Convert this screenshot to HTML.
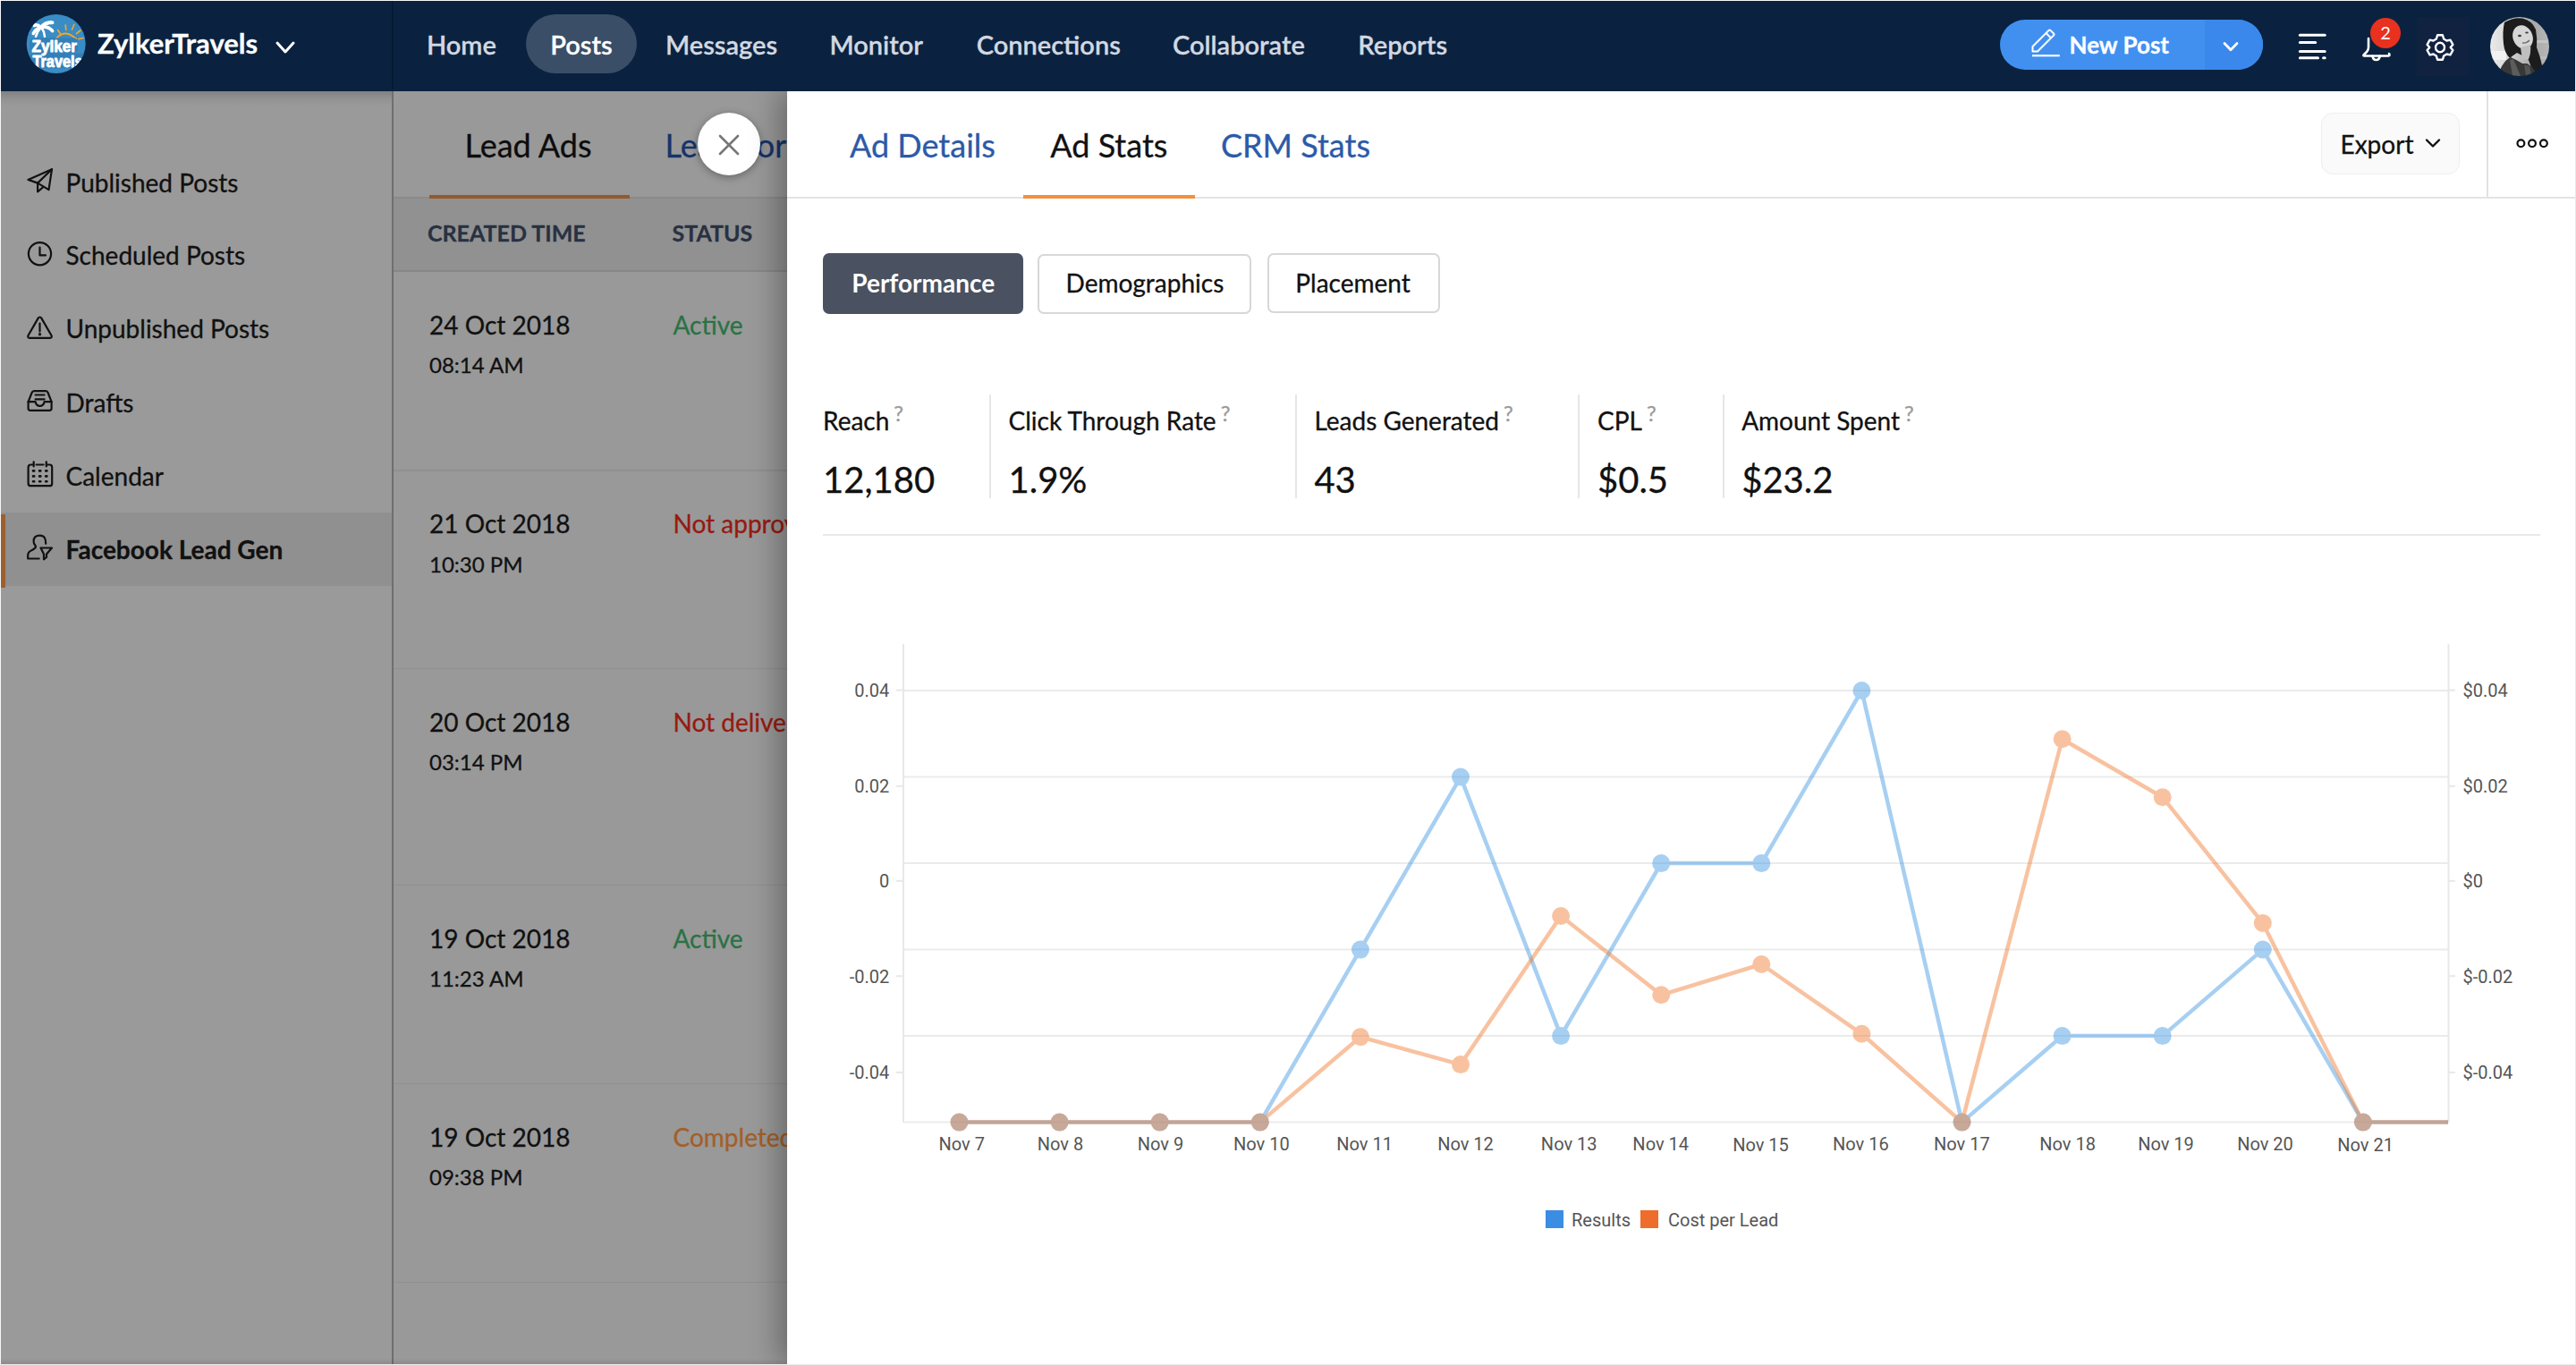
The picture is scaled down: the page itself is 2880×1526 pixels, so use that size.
<!DOCTYPE html>
<html><head><meta charset="utf-8"><title>Zylker Travels - Ad Stats</title>
<style>
*{margin:0;padding:0;box-sizing:border-box}
html,body{width:2880px;height:1526px;overflow:hidden;background:#ededed}
body{position:relative;font-family:"Lato", "Liberation Sans", sans-serif;-webkit-font-smoothing:antialiased}
.t{position:absolute;line-height:1;white-space:nowrap;-webkit-text-stroke:0.3px currentColor}
svg{position:absolute;overflow:visible}
</style></head>
<body>
<div style="position:absolute;left:0px;top:0px;width:2880px;height:1px;background:#f6f6f6"></div>
<div style="position:absolute;left:0px;top:0px;width:1px;height:1526px;background:#f6f6f6"></div>
<div style="position:absolute;left:0;top:0;width:2880px;height:102px;z-index:5">
<div style="position:absolute;left:1px;top:1px;width:2878px;height:101px;background:#0a223f"></div>
<div style="position:absolute;left:438px;top:1px;width:2px;height:99px;background:#061a33"></div>
<svg style="left:29px;top:15px" width="68" height="68" viewBox="0 0 68 68">
<defs><clipPath id="lg"><circle cx="33.7" cy="33.9" r="33"/></clipPath></defs>
<circle cx="33.7" cy="33.9" r="33" fill="#3a8cc4"/>
<g clip-path="url(#lg)">
<g fill="none" stroke="#fff" stroke-linecap="round">
<path d="M17 15.5 Q12 11.5 9.2 13.5" stroke-width="3.6"/>
<path d="M17 15.5 Q22 9.5 29.5 10.2" stroke-width="4"/>
<path d="M17 15.5 Q25 14 29.6 19.6" stroke-width="3.8"/>
<path d="M17 15.5 Q10.5 17.5 8.3 22.5" stroke-width="3.6"/>
<path d="M16.5 16 Q12.5 20 11 25.8" stroke-width="2.6"/>
<path d="M17.5 16 Q20.5 20 21 25.8" stroke-width="2.6"/>
</g>
<path d="M34.5 27.5 Q44 17 56 28.5" stroke="#f5a623" stroke-width="2.2" fill="none" stroke-linecap="round"/>
<g stroke="#f5a623" stroke-width="1.7" stroke-linecap="round">
<line x1="35.5" y1="18.5" x2="38.3" y2="22.5"/><line x1="44.2" y1="13" x2="44.8" y2="18.5"/>
<line x1="53.8" y1="12.5" x2="51.5" y2="18"/><line x1="61" y1="19" x2="56.5" y2="22.5"/><line x1="64" y1="27.5" x2="59" y2="28.5"/>
</g>
<rect x="4" y="27.5" width="54" height="17" rx="5" fill="#337fb9"/><rect x="4" y="44.5" width="62" height="17" rx="5" fill="#337fb9"/>
<g font-family="'Liberation Sans',Arial,sans-serif" font-weight="bold" font-size="18.5" fill="#fff" stroke="#fff" stroke-width="0.9" stroke-linejoin="round">
<text x="6.5" y="42.8" textLength="50.5" lengthAdjust="spacingAndGlyphs">Zylker</text>
<text x="7.5" y="59.6" textLength="56" lengthAdjust="spacingAndGlyphs">Travels</text>
</g></g>
</svg>
<div class="t" style="left:109.00px;top:32.80px;font-size:31px;color:#ffffff;font-weight:700;">ZylkerTravels</div>
<svg style="left:307px;top:45px" width="24" height="18" viewBox="0 0 24 18"><path d="M3 3 L12 13 L21 3" stroke="#fff" stroke-width="3" fill="none" stroke-linecap="round" stroke-linejoin="round"/></svg>
<div style="position:absolute;left:588px;top:16px;width:124px;height:66px;background:#3b4e67;border-radius:33px"></div>
<div class="t" style="left:477.00px;top:34.88px;font-size:29px;color:#d3d8e0;font-weight:600;">Home</div>
<div class="t" style="left:615.30px;top:34.88px;font-size:29px;color:#ffffff;font-weight:600;">Posts</div>
<div class="t" style="left:744.10px;top:34.88px;font-size:29px;color:#d3d8e0;font-weight:600;">Messages</div>
<div class="t" style="left:927.50px;top:34.88px;font-size:29px;color:#d3d8e0;font-weight:600;">Monitor</div>
<div class="t" style="left:1091.70px;top:34.88px;font-size:29px;color:#d3d8e0;font-weight:600;">Connections</div>
<div class="t" style="left:1311.00px;top:34.88px;font-size:29px;color:#d3d8e0;font-weight:600;">Collaborate</div>
<div class="t" style="left:1518.30px;top:34.88px;font-size:29px;color:#d3d8e0;font-weight:600;">Reports</div>
<div style="position:absolute;left:2236px;top:22px;width:294px;height:56px;border-radius:28px;overflow:hidden;background:#4190f0">
<div style="position:absolute;left:229px;top:0;width:65px;height:56px;background:#3a88ec"></div></div>
<svg style="left:2266px;top:28px" width="42" height="40" viewBox="0 0 42 40">
<path d="M6.5 29.5 L6.5 24 L24.5 6 Q25.5 5 26.5 6 L30 9.5 Q31 10.5 30 11.5 L12 29.5 Z" stroke="#fff" stroke-width="2" fill="none" stroke-linejoin="round"/>
<line x1="21.5" y1="9" x2="27" y2="14.5" stroke="#fff" stroke-width="2"/>
<line x1="6" y1="34.2" x2="36.8" y2="34.2" stroke="#fff" stroke-width="2.2"/>
</svg>
<div class="t" style="left:2313.50px;top:37.04px;font-size:26px;color:#ffffff;font-weight:700;">New Post</div>
<svg style="left:2482px;top:43px" width="24" height="18" viewBox="0 0 24 18"><path d="M5 5.6 L12 12.8 L19 5.6" stroke="#fff" stroke-width="2.8" fill="none" stroke-linecap="round" stroke-linejoin="round"/></svg>
<svg style="left:2566px;top:34px" width="40" height="36" viewBox="0 0 40 36" stroke="#fff" stroke-width="3" stroke-linecap="round">
<line x1="5.4" y1="5.2" x2="33.2" y2="5.2"/><line x1="5.4" y1="13.4" x2="22.7" y2="13.4"/>
<line x1="5.4" y1="23.5" x2="33.2" y2="23.5"/><line x1="5.4" y1="30.7" x2="25.5" y2="30.7"/><line x1="31.6" y1="30.7" x2="33.2" y2="30.7"/>
</svg>
<svg style="left:2636px;top:24px" width="44" height="48" viewBox="0 0 44 48" fill="none" stroke="#fff" stroke-width="2.6" stroke-linejoin="round" stroke-linecap="round">
<path d="M12 19 L12 29 Q12 32 10 34 L7 37 Q5.5 38.5 7.5 38.5 L34 38.5 Q35.5 38.5 35.5 37 L35 36"/>
<path d="M16.5 38.5 Q17 43 20.6 43 Q24.2 43 24.7 38.5"/>
</svg>
<div style="position:absolute;left:2650px;top:20px;width:34px;height:34px;border-radius:17px;background:#e8311f"></div>
<div class="t" style="left:2661.20px;top:26.16px;font-size:20px;color:#ffffff;-webkit-text-stroke:0;">2</div>
<div style="position:absolute;left:2702px;top:19px;width:58px;height:66px;background:#112240"></div>
<svg style="left:2710px;top:35px" width="36" height="36" viewBox="-18 -18 36 36" fill="none" stroke="#fff" stroke-width="2.6" stroke-linejoin="round"><g transform="scale(0.91,0.96)">
<path d="M-3.2 -14.2 L3.2 -14.2 L4.6 -9.9 L8.2 -7.8 L12.6 -8.7 L15.8 -3.2 L12.8 0 L12.8 0 L15.8 3.2 L12.6 8.7 L8.2 7.8 L4.6 9.9 L3.2 14.2 L-3.2 14.2 L-4.6 9.9 L-8.2 7.8 L-12.6 8.7 L-15.8 3.2 L-12.8 0 L-15.8 -3.2 L-12.6 -8.7 L-8.2 -7.8 L-4.6 -9.9 Z"/>
<circle cx="0" cy="0" r="5.5"/></g>
</svg>
<svg style="left:2784px;top:19px" width="66" height="66" viewBox="0 0 66 66">
<defs><clipPath id="av"><circle cx="33" cy="33" r="33"/></clipPath>
<linearGradient id="avbg" x1="0" x2="1" y1="0" y2="0"><stop offset="0" stop-color="#ececec"/><stop offset="0.3" stop-color="#d8d8d8"/><stop offset="0.7" stop-color="#a8a8a8"/><stop offset="1" stop-color="#b8b8b8"/></linearGradient>
<filter id="avb" x="-10%" y="-10%" width="120%" height="120%"><feGaussianBlur stdDeviation="0.7"/></filter></defs>
<g clip-path="url(#av)"><g filter="url(#avb)">
<rect x="-2" y="-2" width="70" height="70" fill="url(#avbg)"/>
<rect x="48" y="26" width="20" height="3" fill="#c4c4c4"/><rect x="48" y="44" width="20" height="3" fill="#bcbcbc"/>
<rect x="0" y="38" width="18" height="10" fill="#f2f2f2"/>
<path d="M16 6 Q26 0 36 1.5 Q47 4 51 14 Q53 24 52 34 Q56 44 58 54 L57 64 L48 64 Q45 52 42 46 L30 40 Q24 44 22 46 Q16 40 15 30 Q13.5 16 16 6 Z" fill="#1e1e1e"/>
<ellipse cx="36.5" cy="22.5" rx="11" ry="13.5" transform="rotate(-22 36.5 22.5)" fill="#d6d6d6"/>
<ellipse cx="33" cy="21" rx="2" ry="1.2" fill="#3a3a3a"/><ellipse cx="41" cy="17.5" rx="1.8" ry="1.1" fill="#3a3a3a"/>
<path d="M36 29 Q41 29.5 44 26" stroke="#6a6a6a" stroke-width="1.3" fill="none"/>
<path d="M34 34 L45 31 Q46 40 43 47 L36 48 Z" fill="#bfbfbf"/>
<path d="M8 66 L13 55 Q18 47 23 45 Q30 48 36 52 L41 52 Q47 55 51 62 L53 66 Z" fill="#383838"/>
<path d="M22 48 L26 47 L34 66 L25 66 Z" fill="#5c5c5c"/><path d="M38 53 L44 55 L46 66 L40 66 Z" fill="#555"/>
</g></g></svg>
</div>
<div style="position:absolute;left:1px;top:101px;width:438px;height:1424px;background:#9a9a9a"></div>
<div style="position:absolute;left:1px;top:102px;width:879px;height:16px;background:linear-gradient(rgba(0,0,0,0.16),rgba(0,0,0,0.06) 50%,rgba(0,0,0,0))"></div>
<div style="position:absolute;left:1px;top:573px;width:438px;height:82px;background:#909090"></div>
<div style="position:absolute;left:1px;top:575px;width:5px;height:82px;background:#9c5f30"></div>
<div class="t" style="left:73.50px;top:189.86px;font-size:28px;color:#111111;">Published Posts</div>
<div class="t" style="left:73.50px;top:271.36px;font-size:28px;color:#111111;">Scheduled Posts</div>
<div class="t" style="left:73.50px;top:353.16px;font-size:28px;color:#111111;">Unpublished Posts</div>
<div class="t" style="left:73.50px;top:435.56px;font-size:28px;color:#111111;">Drafts</div>
<div class="t" style="left:73.50px;top:517.96px;font-size:28px;color:#111111;">Calendar</div>
<div class="t" style="left:73.50px;top:599.76px;font-size:28px;color:#111111;font-weight:700;">Facebook Lead Gen</div>
<svg style="left:0;top:0" width="70" height="660" viewBox="0 0 70 660" fill="none" stroke="#111" stroke-width="2.2" stroke-linecap="round" stroke-linejoin="round">
<path d="M58 189.2 L31.4 200.9 L42.1 204.6 L54.5 212.1 Z"/><path d="M58 189.2 L42.1 204.6 L42.1 214.3 L47.9 209.5"/>
<circle cx="44.5" cy="283.7" r="12.6"/><path d="M44.5 276.6 L44.5 285.4 L51 285.4"/>
<path d="M44.5 354.5 Q45.6 354.5 46.3 355.6 L57.6 375.2 Q58.4 377.5 56 377.8 L33 377.8 Q30.6 377.5 31.4 375.2 L42.7 355.6 Q43.4 354.5 44.5 354.5 Z"/>
<line x1="44.5" y1="361.6" x2="44.5" y2="370.6"/><circle cx="44.5" cy="373.8" r="0.6" fill="#111"/>
<path d="M31.6 449.2 L35.6 439 Q36.3 437.2 38.2 437.2 L51.2 437.2 Q53 437.2 53.6 439 L57.6 449.2 L57.6 456.6 Q57.6 458.9 55.3 458.9 L33.9 458.9 Q31.6 458.9 31.6 456.6 Z"/>
<path d="M31.6 449.2 L39.6 449.2 Q40.5 453.8 44.6 453.8 Q48.7 453.8 49.6 449.2 L57.6 449.2"/>
<line x1="39.6" y1="441.5" x2="49.6" y2="441.5"/><line x1="39.6" y1="446.4" x2="49.6" y2="446.4"/>
<path d="M36.5 519.5 L34.6 519.5 Q31.6 519.5 31.6 522.5 L31.6 540.4 Q31.6 543.2 34.6 543.2 L55.4 543.2 Q58.2 543.2 58.2 540.4 L58.2 522.5 Q58.2 519.5 55.4 519.5 L53.2 519.5"/>
<line x1="40.6" y1="519.5" x2="48.6" y2="519.5"/>
<line x1="37.7" y1="516.4" x2="37.7" y2="521.4"/><line x1="51.8" y1="516.4" x2="51.8" y2="521.4"/>
<g stroke-width="2.6"><path d="M37 526.4h1.2M44.1 526.4h1.2M51.2 526.4h1.2M37 532.4h1.2M44.1 532.4h1.2M51.2 532.4h1.2M37 538.3h1.2M44.1 538.3h1.2M51.2 538.3h1.2"/></g>
<path d="M51.2 607.8 Q51.5 598.6 44.5 598.6 Q37.6 598.6 37.6 605 Q37.6 607.6 39.1 609.2 Q40.6 611 39.3 612.6 Q37.8 614.3 35.3 615.2 Q31.2 616.8 31.2 621 L31.2 624.5 L43.7 624.5"/>
<path d="M45.5 612.5 L58 612.5 L52 619.5 L52 623 L49 625.3 L49 619.5 Z"/>
</svg>
<div style="position:absolute;left:440px;top:101px;width:440px;height:1424px;background:#999999"></div>
<div style="position:absolute;left:438px;top:101px;width:2px;height:1424px;background:#6f6f6f"></div>
<div style="position:absolute;left:440px;top:219.5px;width:440px;height:2px;background:#8a8a8a"></div>
<div style="position:absolute;left:480px;top:218px;width:224px;height:4px;background:#955a2c"></div>
<div class="t" style="left:519.50px;top:144.27px;font-size:36px;color:#0d0d0d;">Lead Ads</div>
<div class="t" style="left:743.50px;top:144.27px;font-size:36px;color:#16336b;">Lead Forms</div>
<div style="position:absolute;left:440px;top:222px;width:440px;height:81px;background:#919191"></div>
<div style="position:absolute;left:440px;top:302px;width:440px;height:1.5px;background:#878787"></div>
<div class="t" style="left:478.00px;top:247.82px;font-size:25px;color:#283141;font-weight:700;">CREATED TIME</div>
<div class="t" style="left:751.50px;top:247.82px;font-size:25px;color:#283141;font-weight:700;">STATUS</div>
<div class="t" style="left:480.00px;top:348.96px;font-size:28px;color:#111;">24 Oct 2018</div>
<div class="t" style="left:480.00px;top:396.31px;font-size:24px;color:#111;">08:14 AM</div>
<div class="t" style="left:752.50px;top:348.96px;font-size:28px;color:#2a7245;">Active</div>
<div class="t" style="left:480.00px;top:571.46px;font-size:28px;color:#111;">21 Oct 2018</div>
<div class="t" style="left:480.00px;top:618.81px;font-size:24px;color:#111;">10:30 PM</div>
<div class="t" style="left:752.50px;top:571.46px;font-size:28px;color:#961a10;">Not approved</div>
<div class="t" style="left:480.00px;top:792.96px;font-size:28px;color:#111;">20 Oct 2018</div>
<div class="t" style="left:480.00px;top:840.31px;font-size:24px;color:#111;">03:14 PM</div>
<div class="t" style="left:752.50px;top:792.96px;font-size:28px;color:#961a10;">Not delivering</div>
<div class="t" style="left:480.00px;top:1034.96px;font-size:28px;color:#111;">19 Oct 2018</div>
<div class="t" style="left:480.00px;top:1082.31px;font-size:24px;color:#111;">11:23 AM</div>
<div class="t" style="left:752.50px;top:1034.96px;font-size:28px;color:#2a7245;">Active</div>
<div class="t" style="left:480.00px;top:1256.96px;font-size:28px;color:#111;">19 Oct 2018</div>
<div class="t" style="left:480.00px;top:1304.31px;font-size:24px;color:#111;">09:38 PM</div>
<div class="t" style="left:752.50px;top:1256.96px;font-size:28px;color:#a35f27;">Completed</div>
<div style="position:absolute;left:440px;top:525px;width:440px;height:1.5px;background:#8f8f8f"></div>
<div style="position:absolute;left:440px;top:746.5px;width:440px;height:1.5px;background:#8f8f8f"></div>
<div style="position:absolute;left:440px;top:988.5px;width:440px;height:1.5px;background:#8f8f8f"></div>
<div style="position:absolute;left:440px;top:1210.5px;width:440px;height:1.5px;background:#8f8f8f"></div>
<div style="position:absolute;left:440px;top:1432.5px;width:440px;height:1.5px;background:#8f8f8f"></div>
<div style="position:absolute;left:779.6px;top:125.6px;width:70px;height:70px;border-radius:35px;background:#fff;box-shadow:0 2px 10px rgba(0,0,0,0.35)"></div>
<svg style="left:800px;top:147px" width="30" height="30" viewBox="0 0 30 30" stroke="#777" stroke-width="2.6" stroke-linecap="round"><line x1="5" y1="5" x2="25" y2="25"/><line x1="25" y1="5" x2="5" y2="25"/></svg>
<div style="position:absolute;left:880px;top:101px;width:1999px;height:1424px;background:#fff;box-shadow:-10px 0 30px rgba(0,0,0,0.30)"></div>
<div style="position:absolute;left:880px;top:219.5px;width:1999px;height:2px;background:#e4e4e4"></div>
<div style="position:absolute;left:1144px;top:217.5px;width:192px;height:4px;background:#f0913f"></div>
<div class="t" style="left:950.00px;top:143.57px;font-size:36px;color:#2c5aa8;">Ad Details</div>
<div class="t" style="left:1174.30px;top:143.57px;font-size:36px;color:#111;">Ad Stats</div>
<div class="t" style="left:1365.00px;top:143.57px;font-size:36px;color:#2c5aa8;">CRM Stats</div>
<div style="position:absolute;left:2594.5px;top:126.3px;width:155px;height:69px;border-radius:13px;background:#fafafa;border:1.5px solid #efefef"></div>
<div class="t" style="left:2616.50px;top:147.16px;font-size:28px;color:#111;">Export</div>
<svg style="left:2709px;top:152px" width="22" height="16" viewBox="0 0 22 16"><path d="M4 4.5 L11 11.5 L18 4.5" stroke="#111" stroke-width="2.4" fill="none" stroke-linecap="round" stroke-linejoin="round"/></svg>
<div style="position:absolute;left:2780px;top:101px;width:2px;height:119px;background:#e2e2e2"></div>
<svg style="left:2808px;top:150px" width="46" height="20" viewBox="0 0 46 20" fill="none" stroke="#111" stroke-width="2.2"><circle cx="10.4" cy="10.2" r="3.9"/><circle cx="23" cy="10.2" r="3.9"/><circle cx="35.9" cy="10.2" r="3.9"/></svg>
<div style="position:absolute;left:920px;top:283px;width:224px;height:68px;border-radius:7px;background:#4a5261"></div>
<div class="t" style="left:952.30px;top:302.16px;font-size:28px;color:#ffffff;font-weight:700;-webkit-text-stroke:0;">Performance</div>
<div style="position:absolute;left:1160px;top:283.5px;width:239px;height:67px;border-radius:7px;border:2px solid #d7d7d7"></div>
<div class="t" style="left:1191.60px;top:302.16px;font-size:28px;color:#111;">Demographics</div>
<div style="position:absolute;left:1416.5px;top:283.2px;width:193px;height:67px;border-radius:7px;border:2px solid #d7d7d7"></div>
<div class="t" style="left:1448.30px;top:302.16px;font-size:28px;color:#111;">Placement</div>
<div class="t" style="left:920px;top:456.36px;font-size:28px;color:#111">Reach<span style="position:relative;top:-10.6px;margin-left:5px;font-size:24px;color:#9a9a9a">?</span></div>
<div class="t" style="left:920.00px;top:515.52px;font-size:40px;color:#111;">12,180</div>
<div class="t" style="left:1127.5px;top:456.36px;font-size:28px;color:#111">Click Through Rate<span style="position:relative;top:-10.6px;margin-left:5px;font-size:24px;color:#9a9a9a">?</span></div>
<div class="t" style="left:1127.50px;top:515.52px;font-size:40px;color:#111;">1.9%</div>
<div class="t" style="left:1469.4px;top:456.36px;font-size:28px;color:#111">Leads Generated<span style="position:relative;top:-10.6px;margin-left:5px;font-size:24px;color:#9a9a9a">?</span></div>
<div class="t" style="left:1469.40px;top:515.52px;font-size:40px;color:#111;">43</div>
<div class="t" style="left:1786px;top:456.36px;font-size:28px;color:#111">CPL<span style="position:relative;top:-10.6px;margin-left:5px;font-size:24px;color:#9a9a9a">?</span></div>
<div class="t" style="left:1786.00px;top:515.52px;font-size:40px;color:#111;">$0.5</div>
<div class="t" style="left:1947.2px;top:456.36px;font-size:28px;color:#111">Amount Spent<span style="position:relative;top:-10.6px;margin-left:5px;font-size:24px;color:#9a9a9a">?</span></div>
<div class="t" style="left:1947.20px;top:515.52px;font-size:40px;color:#111;">$23.2</div>
<div style="position:absolute;left:1106px;top:441px;width:2px;height:116px;background:#e6e6e6"></div>
<div style="position:absolute;left:1448px;top:441px;width:2px;height:116px;background:#e6e6e6"></div>
<div style="position:absolute;left:1764px;top:441px;width:2px;height:116px;background:#e6e6e6"></div>
<div style="position:absolute;left:1926px;top:441px;width:2px;height:116px;background:#e6e6e6"></div>
<div style="position:absolute;left:920px;top:597px;width:1920px;height:2px;background:#e8e8e8"></div>
<svg style="left:0;top:0" width="2880" height="1526" viewBox="0 0 2880 1526"><defs><clipPath id="pc"><rect x="1011" y="700" width="1726" height="600"/></clipPath></defs><line x1="1011" y1="772" x2="2737" y2="772" stroke="#ebebeb" stroke-width="2"/><line x1="1011" y1="868.6" x2="2737" y2="868.6" stroke="#ebebeb" stroke-width="2"/><line x1="1011" y1="965.1" x2="2737" y2="965.1" stroke="#ebebeb" stroke-width="2"/><line x1="1011" y1="1061.6" x2="2737" y2="1061.6" stroke="#ebebeb" stroke-width="2"/><line x1="1011" y1="1158.1" x2="2737" y2="1158.1" stroke="#ebebeb" stroke-width="2"/><line x1="1011" y1="1254.6" x2="2737" y2="1254.6" stroke="#ebebeb" stroke-width="2"/><line x1="1010" y1="720" x2="1010" y2="1255" stroke="#e8e8e8" stroke-width="2"/><line x1="2737.5" y1="720" x2="2737.5" y2="1255" stroke="#e8e8e8" stroke-width="2"/><line x1="1002" y1="771.6" x2="1010" y2="771.6" stroke="#e8e8e8" stroke-width="2"/><line x1="2737" y1="771.6" x2="2745" y2="771.6" stroke="#e8e8e8" stroke-width="2"/><text x="994.3" y="778.9" text-anchor="end" font-family='"Roboto", "Liberation Sans", sans-serif' font-size="20" fill="#555">0.04</text><text x="2753.5" y="778.9" font-family='"Roboto", "Liberation Sans", sans-serif' font-size="20" fill="#555">$0.04</text><line x1="1002" y1="878.9" x2="1010" y2="878.9" stroke="#e8e8e8" stroke-width="2"/><line x1="2737" y1="878.9" x2="2745" y2="878.9" stroke="#e8e8e8" stroke-width="2"/><text x="994.3" y="886.2" text-anchor="end" font-family='"Roboto", "Liberation Sans", sans-serif' font-size="20" fill="#555">0.02</text><text x="2753.5" y="886.2" font-family='"Roboto", "Liberation Sans", sans-serif' font-size="20" fill="#555">$0.02</text><line x1="1002" y1="984.8" x2="1010" y2="984.8" stroke="#e8e8e8" stroke-width="2"/><line x1="2737" y1="984.8" x2="2745" y2="984.8" stroke="#e8e8e8" stroke-width="2"/><text x="994.3" y="992.1" text-anchor="end" font-family='"Roboto", "Liberation Sans", sans-serif' font-size="20" fill="#555">0</text><text x="2753.5" y="992.1" font-family='"Roboto", "Liberation Sans", sans-serif' font-size="20" fill="#555">$0</text><line x1="1002" y1="1091.2" x2="1010" y2="1091.2" stroke="#e8e8e8" stroke-width="2"/><line x1="2737" y1="1091.2" x2="2745" y2="1091.2" stroke="#e8e8e8" stroke-width="2"/><text x="994.3" y="1098.5" text-anchor="end" font-family='"Roboto", "Liberation Sans", sans-serif' font-size="20" fill="#555">-0.02</text><text x="2753.5" y="1098.5" font-family='"Roboto", "Liberation Sans", sans-serif' font-size="20" fill="#555">$-0.02</text><line x1="1002" y1="1198.9" x2="1010" y2="1198.9" stroke="#e8e8e8" stroke-width="2"/><line x1="2737" y1="1198.9" x2="2745" y2="1198.9" stroke="#e8e8e8" stroke-width="2"/><text x="994.3" y="1206.2" text-anchor="end" font-family='"Roboto", "Liberation Sans", sans-serif' font-size="20" fill="#555">-0.04</text><text x="2753.5" y="1206.2" font-family='"Roboto", "Liberation Sans", sans-serif' font-size="20" fill="#555">$-0.04</text><text x="1075.3" y="1285.5" text-anchor="middle" font-family='"Roboto", "Liberation Sans", sans-serif' font-size="20" fill="#555">Nov 7</text><text x="1185.5" y="1285.5" text-anchor="middle" font-family='"Roboto", "Liberation Sans", sans-serif' font-size="20" fill="#555">Nov 8</text><text x="1297.5" y="1285.5" text-anchor="middle" font-family='"Roboto", "Liberation Sans", sans-serif' font-size="20" fill="#555">Nov 9</text><text x="1410.4" y="1285.5" text-anchor="middle" font-family='"Roboto", "Liberation Sans", sans-serif' font-size="20" fill="#555">Nov 10</text><text x="1525.6" y="1285.5" text-anchor="middle" font-family='"Roboto", "Liberation Sans", sans-serif' font-size="20" fill="#555">Nov 11</text><text x="1638.5" y="1285.5" text-anchor="middle" font-family='"Roboto", "Liberation Sans", sans-serif' font-size="20" fill="#555">Nov 12</text><text x="1754.2" y="1285.5" text-anchor="middle" font-family='"Roboto", "Liberation Sans", sans-serif' font-size="20" fill="#555">Nov 13</text><text x="1856.7" y="1285.5" text-anchor="middle" font-family='"Roboto", "Liberation Sans", sans-serif' font-size="20" fill="#555">Nov 14</text><text x="1968.5" y="1286.5" text-anchor="middle" font-family='"Roboto", "Liberation Sans", sans-serif' font-size="20" fill="#555">Nov 15</text><text x="2080.3" y="1285.5" text-anchor="middle" font-family='"Roboto", "Liberation Sans", sans-serif' font-size="20" fill="#555">Nov 16</text><text x="2193.3" y="1285.5" text-anchor="middle" font-family='"Roboto", "Liberation Sans", sans-serif' font-size="20" fill="#555">Nov 17</text><text x="2311.6" y="1285.5" text-anchor="middle" font-family='"Roboto", "Liberation Sans", sans-serif' font-size="20" fill="#555">Nov 18</text><text x="2421.5" y="1285.5" text-anchor="middle" font-family='"Roboto", "Liberation Sans", sans-serif' font-size="20" fill="#555">Nov 19</text><text x="2532.5" y="1285.5" text-anchor="middle" font-family='"Roboto", "Liberation Sans", sans-serif' font-size="20" fill="#555">Nov 20</text><text x="2644.6" y="1286.5" text-anchor="middle" font-family='"Roboto", "Liberation Sans", sans-serif' font-size="20" fill="#555">Nov 21</text><g opacity="0.45" clip-path="url(#pc)"><g fill="#3d96e4"><polyline points="1072.5,1254.6 1184.6,1254.6 1296.7,1254.6 1408.8,1254.6 1520.9,1061.6 1633.0,868.6 1745.1,1158.1 1857.2,965.1 1969.3,965.1 2081.4,772 2193.5,1254.6 2305.6,1158.1 2417.7,1158.1 2529.8,1061.6 2641.9,1254.6 2754.0,1254.6" fill="none" stroke="#3d96e4" stroke-width="4.5" stroke-linejoin="round"/><circle cx="1072.5" cy="1254.6" r="10"/><circle cx="1184.6" cy="1254.6" r="10"/><circle cx="1296.7" cy="1254.6" r="10"/><circle cx="1408.8" cy="1254.6" r="10"/><circle cx="1520.9" cy="1061.6" r="10"/><circle cx="1633.0" cy="868.6" r="10"/><circle cx="1745.1" cy="1158.1" r="10"/><circle cx="1857.2" cy="965.1" r="10"/><circle cx="1969.3" cy="965.1" r="10"/><circle cx="2081.4" cy="772" r="10"/><circle cx="2193.5" cy="1254.6" r="10"/><circle cx="2305.6" cy="1158.1" r="10"/><circle cx="2417.7" cy="1158.1" r="10"/><circle cx="2529.8" cy="1061.6" r="10"/><circle cx="2641.9" cy="1254.6" r="10"/></g></g><g opacity="0.45" clip-path="url(#pc)"><g fill="#f07a2e"><polyline points="1072.5,1254.6 1184.6,1254.6 1296.7,1254.6 1408.8,1254.6 1520.9,1159.3 1633.0,1190.1 1745.1,1024 1857.2,1112.3 1969.3,1078 2081.4,1155.8 2193.5,1254.6 2305.6,826.2 2417.7,891.2 2529.8,1031.9 2641.9,1254.6 2754.0,1254.6" fill="none" stroke="#f07a2e" stroke-width="4.5" stroke-linejoin="round"/><circle cx="1072.5" cy="1254.6" r="10"/><circle cx="1184.6" cy="1254.6" r="10"/><circle cx="1296.7" cy="1254.6" r="10"/><circle cx="1408.8" cy="1254.6" r="10"/><circle cx="1520.9" cy="1159.3" r="10"/><circle cx="1633.0" cy="1190.1" r="10"/><circle cx="1745.1" cy="1024" r="10"/><circle cx="1857.2" cy="1112.3" r="10"/><circle cx="1969.3" cy="1078" r="10"/><circle cx="2081.4" cy="1155.8" r="10"/><circle cx="2193.5" cy="1254.6" r="10"/><circle cx="2305.6" cy="826.2" r="10"/><circle cx="2417.7" cy="891.2" r="10"/><circle cx="2529.8" cy="1031.9" r="10"/><circle cx="2641.9" cy="1254.6" r="10"/></g></g><rect x="1728" y="1353" width="20" height="20" fill="#3b8de3"/><text x="1757" y="1371" font-family='"Roboto", "Liberation Sans", sans-serif' font-size="20" fill="#555">Results</text><rect x="1834" y="1353" width="20" height="20" fill="#ee6c2c"/><text x="1865" y="1371" font-family='"Roboto", "Liberation Sans", sans-serif' font-size="20" fill="#555">Cost per Lead</text></svg>
<div style="position:absolute;left:1px;top:1519px;width:879px;height:6px;background:linear-gradient(rgba(0,0,0,0),rgba(0,0,0,0.10))"></div>
<div style="position:absolute;left:2879px;top:0px;width:1px;height:1526px;background:#e9e9e9"></div>
<div style="position:absolute;left:0px;top:1525px;width:2880px;height:1px;background:#ececec"></div>
</body></html>
